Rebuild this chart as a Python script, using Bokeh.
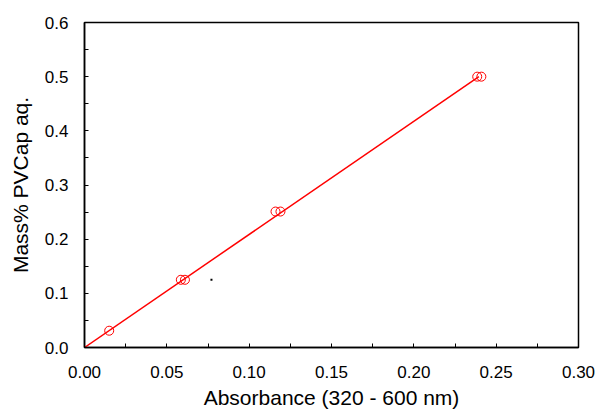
from bokeh.plotting import figure
from bokeh.models import FixedTicker, PrintfTickFormatter, Range1d
from bokeh.embed import file_html
from bokeh.resources import INLINE

# measured data
absorbance = [0.015, 0.0585, 0.061, 0.116, 0.119, 0.2385, 0.241]
mass_pct = [0.031, 0.125, 0.125, 0.251, 0.251, 0.5, 0.5]
# linear calibration line through origin
fit_x = [0.0, 0.2395]
fit_y = [0.0, 0.5]
# stray dot in the original
dot_x = [0.0771]
dot_y = [0.125]

x_major = [0.0, 0.05, 0.10, 0.15, 0.20, 0.25, 0.30]
x_minor = [0.025, 0.075, 0.125, 0.175, 0.225, 0.275]
y_major = [0.0, 0.1, 0.2, 0.3, 0.4, 0.5, 0.6]
y_minor = [0.05, 0.15, 0.25, 0.35, 0.45, 0.55]

W, H = 595, 411
p = figure(width=W, height=H, output_backend="svg", toolbar_location=None,
           x_range=Range1d(0, 0.30), y_range=Range1d(0, 0.6),
           min_border_left=84, min_border_right=17, min_border_top=22,
           min_border_bottom=61)
p.xgrid.visible = False
p.ygrid.visible = False
p.outline_line_color = "black"
p.outline_line_width = 1.5

p.line(fit_x, fit_y, line_color="red", line_width=1.5)
p.scatter(absorbance, mass_pct, marker="circle", size=9, fill_color=None,
          line_color="red", line_width=1)
p.scatter(dot_x, dot_y, marker="square", size=2, fill_color="black",
          line_color=None)

for ax, maj, mnr, fmt in ((p.xaxis[0], x_major, x_minor, "%.2f"),
                          (p.yaxis[0], y_major, y_minor, "%.1f")):
    ax.ticker = FixedTicker(ticks=maj, minor_ticks=mnr)
    ax.formatter = PrintfTickFormatter(format=fmt)
    ax.major_tick_in = 4
    ax.major_tick_out = 0
    ax.minor_tick_in = 4
    ax.minor_tick_out = 0
    ax.axis_line_width = 1.5
    ax.major_tick_line_width = 1
    ax.minor_tick_line_width = 1
    ax.axis_line_color = "black"
    ax.major_label_text_font = "Liberation Sans"
    ax.major_label_text_font_size = "17px"
    ax.major_label_text_color = "black"
    ax.axis_label_text_font = "Liberation Sans"
    ax.axis_label_text_font_size = "21px"
    ax.axis_label_text_font_style = "normal"
    ax.axis_label_text_color = "black"

p.xaxis.axis_label = "Absorbance (320 - 600 nm)"
p.yaxis.axis_label = "Mass% PVCap aq."
p.xaxis.major_label_standoff = 18
p.yaxis.major_label_standoff = 16
p.xaxis.axis_label_standoff = 5
p.yaxis.axis_label_standoff = 10

open("out.html", "w").write(file_html(p, INLINE))
